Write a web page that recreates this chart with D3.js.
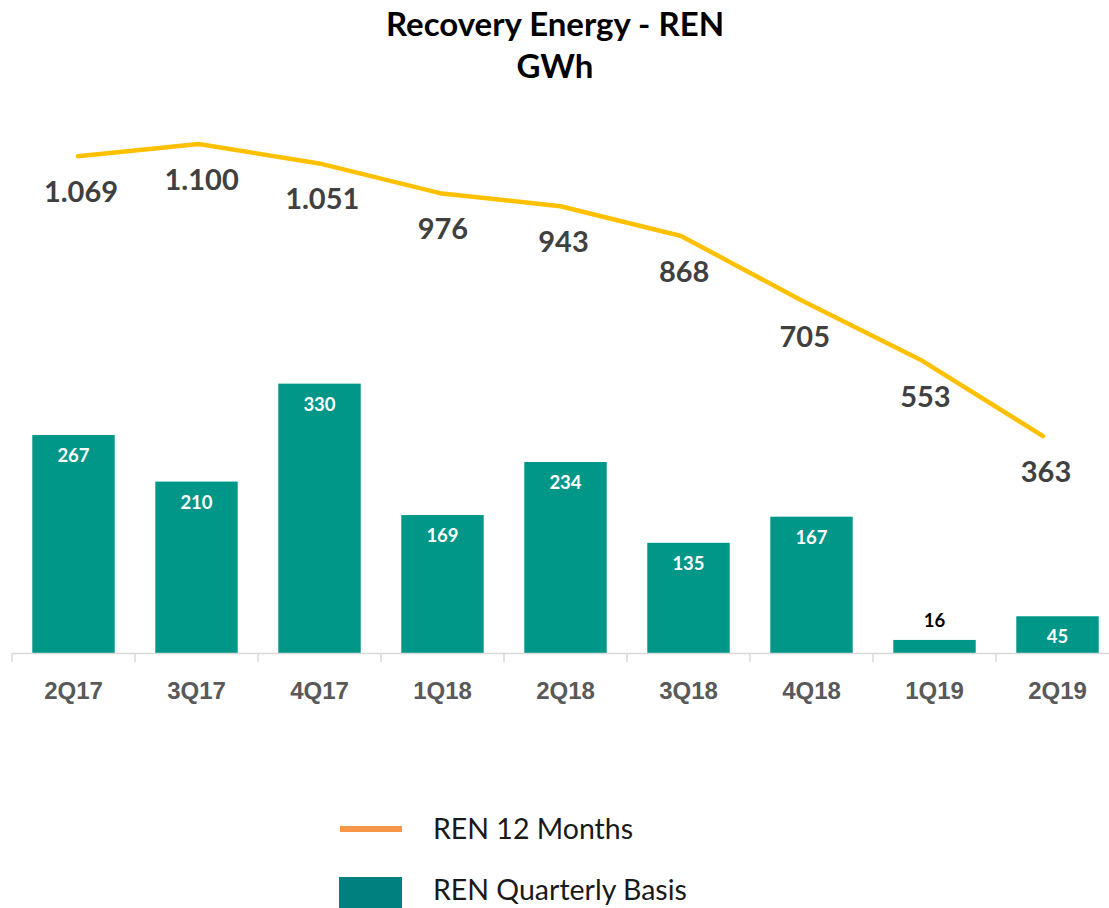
<!DOCTYPE html>
<html>
<head>
<meta charset="utf-8">
<script src="https://cdn.jsdelivr.net/npm/d3@7"></script>
<style>
  html, body { margin: 0; padding: 0; background: #fff; }
  svg { display: block; font-family: Lato, "Open Sans", sans-serif; }
</style>
</head>
<body>
<svg id="chart" width="1109" height="908"></svg>
<script>
const quarters = ["2Q17", "3Q17", "4Q17", "1Q18", "2Q18", "3Q18", "4Q18", "1Q19", "2Q19"];
const quarterly = [267, 210, 330, 169, 234, 135, 167, 16, 45];
const twelveMonths = [1069, 1100, 1051, 976, 943, 868, 705, 553, 363];
const titleLines = ["Recovery Energy - REN", "GWh"];
const legendItems = ["REN 12 Months", "REN Quarterly Basis"];

const COLOR = {
    BAR: "#009688",
    LINE: "#FFC000",
    LEGEND_LINE: "#F79646",
    LEGEND_BAR: "#00807F",
    AXIS: "#D9D9D9",
    TICK_TEXT: "#595959",
    LINE_LABEL: "#404040"
};

const fmt = v => d3.format(",")(v).replace(/,/g, ".");

const svg = d3.select("#chart");

const baseline = 653;

const x = d3.scaleBand()
    .domain(quarters)
    .range([12, 1119])
    .paddingInner(0.33)
    .paddingOuter(0.165);

const xLine = d3.scalePoint()
    .domain(quarters)
    .range([78, 1043]);

const yBar = d3.scaleLinear()
    .domain([0, 800])
    .range([baseline, 0]);

const yLine = d3.scaleLinear()
    .domain([0, 1100])
    .range([580, 144]);

// title
svg.append("g")
    .selectAll("text")
    .data(titleLines)
    .join("text")
    .attr("x", 555)
    .attr("y", (d, i) => 36 + i * 42)
    .attr("text-anchor", "middle")
    .attr("font-size", 33)
    .attr("font-weight", "bold")
    .attr("fill", "#000")
    .text(d => d);

// bars
const bars = svg.append("g");
bars.selectAll("rect")
    .data(quarterly)
    .join("rect")
    .attr("x", (d, i) => x(quarters[i]))
    .attr("y", d => yBar(d))
    .attr("width", x.bandwidth())
    .attr("height", d => baseline - yBar(d))
    .attr("fill", COLOR.BAR);

bars.selectAll("text")
    .data(quarterly)
    .join("text")
    .attr("x", (d, i) => x(quarters[i]) + x.bandwidth() / 2)
    .attr("y", d => baseline - yBar(d) > 30 ? yBar(d) + 27 : yBar(d) - 13)
    .attr("text-anchor", "middle")
    .attr("font-size", 18.5)
    .attr("font-weight", "bold")
    .attr("fill", d => baseline - yBar(d) > 30 ? "#fff" : "#000")
    .text(d => d);

// x axis
const axis = svg.append("g")
    .attr("transform", `translate(0,${baseline})`)
    .call(d3.axisBottom(x).tickSize(0).tickFormat(""));
axis.select(".domain").attr("stroke", COLOR.AXIS).attr("stroke-width", 1.5);

const step = x.step();
axis.selectAll(".sep")
    .data(d3.range(quarters.length))
    .join("line")
    .attr("class", "sep")
    .attr("x1", (d, i) => x(quarters[i]) - step * 0.165)
    .attr("x2", (d, i) => x(quarters[i]) - step * 0.165)
    .attr("y1", 0)
    .attr("y2", 9)
    .attr("stroke", COLOR.AXIS)
    .attr("stroke-width", 1.5);

axis.selectAll(".qlabel")
    .data(quarters)
    .join("text")
    .attr("class", "qlabel")
    .attr("x", d => x(d) + x.bandwidth() / 2)
    .attr("y", 46)
    .attr("text-anchor", "middle")
    .attr("font-size", 24)
    .attr("font-weight", "bold")
    .attr("fill", COLOR.TICK_TEXT)
    .text(d => d);

// 12 months line
const line = d3.line()
    .x((d, i) => xLine(quarters[i]))
    .y(d => yLine(d));

svg.append("path")
    .datum(twelveMonths)
    .attr("d", line)
    .attr("fill", "none")
    .attr("stroke", COLOR.LINE)
    .attr("stroke-width", 4.5)
    .attr("stroke-linecap", "round")
    .attr("stroke-linejoin", "round");

svg.append("g")
    .selectAll("text")
    .data(twelveMonths)
    .join("text")
    .attr("x", (d, i) => xLine(quarters[i]) + 3)
    .attr("y", d => yLine(d) + 46)
    .attr("text-anchor", "middle")
    .attr("font-size", 29)
    .attr("font-weight", "bold")
    .attr("fill", COLOR.LINE_LABEL)
    .text(d => fmt(d));

// legend
const legend = svg.append("g");
legend.append("line")
    .attr("x1", 340).attr("x2", 402)
    .attr("y1", 829).attr("y2", 829)
    .attr("stroke", COLOR.LEGEND_LINE)
    .attr("stroke-width", 6);
legend.append("rect")
    .attr("x", 339).attr("y", 877)
    .attr("width", 63).attr("height", 31)
    .attr("fill", COLOR.LEGEND_BAR);
legend.selectAll("text")
    .data(legendItems)
    .join("text")
    .attr("x", 433)
    .attr("y", (d, i) => 839 + i * 61)
    .attr("font-size", 28.5)
    .attr("fill", "#1a1a1a")
    .text(d => d);
</script>
</body>
</html>
